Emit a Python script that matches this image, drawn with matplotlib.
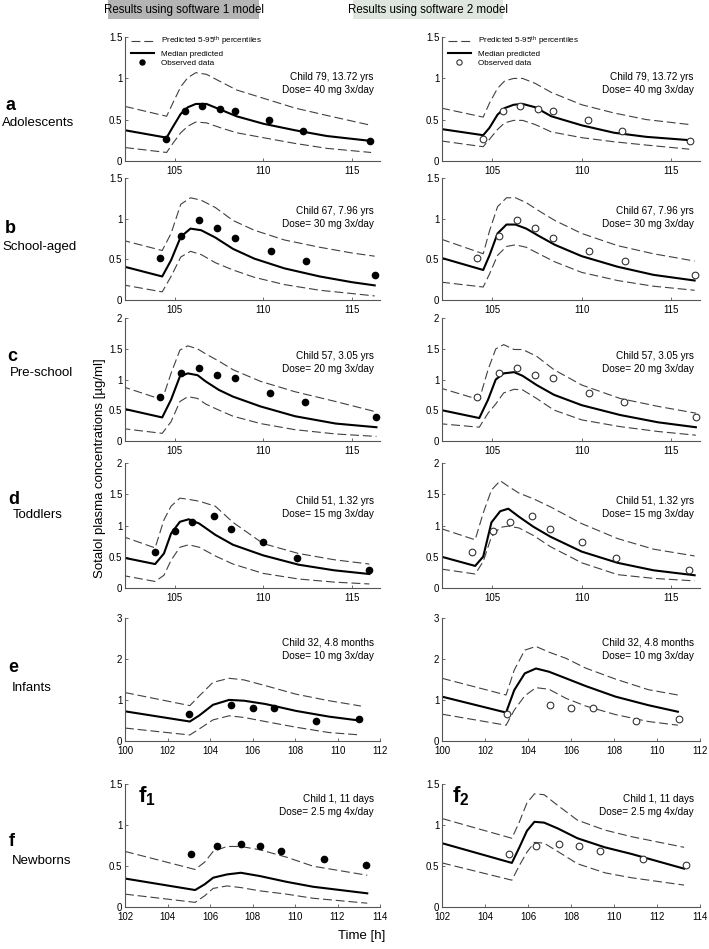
import numpy as np
import matplotlib
matplotlib.use('Agg')
import matplotlib.pyplot as plt
from matplotlib.patches import Rectangle
from matplotlib.ticker import FormatStrFormatter

plt.rcParams['font.family'] = ['Liberation Sans', 'DejaVu Sans']
plt.rcParams['mathtext.default'] = 'regular'

# ---- observed data (same in both columns) ----
a_obs_t = [104.5, 105.6, 106.55, 107.55, 108.4, 110.35, 112.25, 116.05]
a_obs_c = [0.26, 0.61, 0.67, 0.63, 0.61, 0.49, 0.36, 0.24]
b_obs_t = [104.15, 105.37, 106.37, 107.38, 108.4, 110.42, 112.4, 116.3]
b_obs_c = [0.52, 0.79, 0.98, 0.89, 0.77, 0.61, 0.48, 0.31]
c_obs_t = [104.15, 105.39, 106.39, 107.41, 108.39, 110.4, 112.38, 116.38]
c_obs_c = [0.72, 1.11, 1.19, 1.07, 1.02, 0.78, 0.64, 0.39]
d_obs_t = [103.9, 105.05, 106.0, 107.2, 108.2, 110.0, 111.9, 116.0]
d_obs_c = [0.58, 0.91, 1.05, 1.16, 0.94, 0.73, 0.48, 0.28]
e_obs_t = [103.0, 105.0, 106.0, 107.0, 109.0, 111.0]
e_obs_c = [0.66, 0.88, 0.80, 0.79, 0.48, 0.53]
f_obs_t = [105.1, 106.35, 107.45, 108.35, 109.35, 111.35, 113.35]
f_obs_c = [0.65, 0.74, 0.77, 0.74, 0.69, 0.59, 0.51]

# ---- software 1 predictions ----
a1_t = [102.2, 104.55, 104.9, 105.35, 105.75, 106.2, 106.8, 107.6, 108.5, 110.0, 111.8, 113.6, 116.1]
a1_med = [0.37, 0.28, 0.41, 0.57, 0.65, 0.69, 0.69, 0.62, 0.54, 0.45, 0.37, 0.30, 0.24]
a1_up = [0.66, 0.54, 0.70, 0.90, 1.01, 1.07, 1.05, 0.96, 0.86, 0.76, 0.64, 0.55, 0.43]
a1_lo = [0.16, 0.10, 0.21, 0.34, 0.42, 0.47, 0.46, 0.40, 0.34, 0.28, 0.21, 0.15, 0.10]

b1_t = [102.0, 104.3, 104.8, 105.35, 105.9, 106.5, 107.3, 108.3, 109.5, 111.2, 113.2, 115.0, 116.3]
b1_med = [0.42, 0.29, 0.49, 0.78, 0.88, 0.86, 0.77, 0.63, 0.51, 0.39, 0.29, 0.22, 0.18]
b1_up = [0.74, 0.61, 0.82, 1.18, 1.26, 1.23, 1.14, 0.98, 0.86, 0.74, 0.65, 0.58, 0.54]
b1_lo = [0.19, 0.10, 0.29, 0.53, 0.60, 0.56, 0.46, 0.37, 0.28, 0.19, 0.12, 0.08, 0.05]

c1_t = [102.0, 104.3, 104.8, 105.3, 105.75, 106.3, 106.75, 107.5, 108.3, 109.85, 111.8, 114.1, 116.4]
c1_med = [0.53, 0.38, 0.67, 1.05, 1.10, 1.07, 0.97, 0.83, 0.72, 0.56, 0.40, 0.28, 0.22]
c1_up = [0.89, 0.67, 1.10, 1.48, 1.55, 1.50, 1.42, 1.30, 1.16, 0.97, 0.80, 0.64, 0.47]
c1_lo = [0.20, 0.12, 0.31, 0.64, 0.72, 0.69, 0.60, 0.50, 0.40, 0.28, 0.18, 0.11, 0.07]

d1_t = [102.0, 103.9, 104.4, 104.8, 105.3, 105.8, 106.4, 107.3, 108.3, 110.0, 112.0, 114.0, 116.0]
d1_med = [0.49, 0.38, 0.55, 0.87, 1.06, 1.10, 1.03, 0.85, 0.69, 0.52, 0.37, 0.28, 0.22]
d1_up = [0.83, 0.64, 1.09, 1.31, 1.44, 1.42, 1.39, 1.31, 1.05, 0.71, 0.55, 0.45, 0.38]
d1_lo = [0.20, 0.10, 0.20, 0.44, 0.65, 0.69, 0.65, 0.51, 0.38, 0.23, 0.14, 0.09, 0.06]

e1_t = [100.0, 103.05, 103.5, 104.14, 104.9, 105.6, 106.6, 108.05, 109.6, 111.1]
e1_med = [0.72, 0.47, 0.62, 0.88, 1.00, 0.98, 0.90, 0.73, 0.59, 0.49]
e1_up = [1.18, 0.86, 1.10, 1.43, 1.53, 1.49, 1.35, 1.14, 0.98, 0.85]
e1_lo = [0.31, 0.14, 0.29, 0.51, 0.61, 0.57, 0.47, 0.33, 0.20, 0.14]

f1_t = [102.0, 105.3, 105.75, 106.15, 106.8, 107.45, 108.35, 109.6, 110.85, 113.4]
f1_med = [0.35, 0.21, 0.28, 0.36, 0.40, 0.42, 0.38, 0.31, 0.25, 0.17]
f1_up = [0.68, 0.46, 0.55, 0.68, 0.74, 0.74, 0.70, 0.61, 0.50, 0.39]
f1_lo = [0.16, 0.06, 0.14, 0.23, 0.26, 0.24, 0.20, 0.16, 0.11, 0.05]

# ---- software 2 predictions ----
a2_t = [102.15, 104.5, 104.85, 105.3, 105.7, 106.2, 106.7, 107.4, 108.3, 110.0, 111.8, 113.6, 116.0]
a2_med = [0.385, 0.31, 0.40, 0.56, 0.64, 0.68, 0.69, 0.65, 0.54, 0.43, 0.34, 0.29, 0.25]
a2_up = [0.64, 0.53, 0.70, 0.88, 0.97, 1.00, 1.00, 0.94, 0.83, 0.68, 0.58, 0.50, 0.44]
a2_lo = [0.24, 0.17, 0.26, 0.38, 0.46, 0.49, 0.49, 0.44, 0.35, 0.28, 0.23, 0.19, 0.14]

b2_t = [102.15, 104.5, 104.85, 105.3, 105.8, 106.3, 106.9, 107.6, 108.5, 110.0, 112.0, 114.0, 116.3]
b2_med = [0.52, 0.37, 0.55, 0.82, 0.93, 0.93, 0.88, 0.79, 0.68, 0.54, 0.41, 0.31, 0.24]
b2_up = [0.75, 0.57, 0.85, 1.15, 1.26, 1.26, 1.20, 1.10, 0.98, 0.82, 0.67, 0.57, 0.48]
b2_lo = [0.22, 0.16, 0.32, 0.55, 0.66, 0.68, 0.65, 0.57, 0.47, 0.34, 0.24, 0.17, 0.12]

c2_t = [102.0, 104.28, 104.77, 105.2, 105.64, 106.22, 106.7, 107.48, 108.45, 110.0, 112.14, 114.27, 116.37]
c2_med = [0.51, 0.37, 0.67, 1.00, 1.10, 1.12, 1.06, 0.91, 0.75, 0.58, 0.42, 0.30, 0.22]
c2_up = [0.87, 0.67, 1.16, 1.50, 1.57, 1.49, 1.49, 1.38, 1.16, 0.91, 0.69, 0.56, 0.45]
c2_lo = [0.28, 0.22, 0.45, 0.60, 0.78, 0.84, 0.83, 0.69, 0.50, 0.34, 0.23, 0.15, 0.09]

d2_t = [102.15, 104.05, 104.5, 104.96, 105.45, 105.9, 106.5, 107.3, 108.25, 110.0, 112.0, 114.0, 116.3]
d2_med = [0.50, 0.35, 0.50, 1.05, 1.23, 1.27, 1.14, 0.98, 0.82, 0.58, 0.40, 0.28, 0.20]
d2_up = [0.95, 0.77, 1.20, 1.57, 1.72, 1.63, 1.52, 1.43, 1.30, 1.03, 0.79, 0.62, 0.51]
d2_lo = [0.30, 0.22, 0.42, 0.82, 0.97, 0.99, 0.96, 0.84, 0.66, 0.40, 0.21, 0.15, 0.11]

e2_t = [100.0, 102.98, 103.36, 103.85, 104.37, 104.98, 105.76, 106.68, 108.07, 109.6, 110.97]
e2_med = [1.08, 0.69, 1.24, 1.65, 1.77, 1.69, 1.53, 1.34, 1.08, 0.87, 0.71]
e2_up = [1.53, 1.12, 1.73, 2.22, 2.31, 2.17, 2.02, 1.78, 1.51, 1.25, 1.12]
e2_lo = [0.65, 0.38, 0.75, 1.10, 1.30, 1.26, 1.04, 0.85, 0.64, 0.47, 0.38]

f2_t = [102.0, 105.25, 105.6, 105.95, 106.3, 106.75, 107.38, 108.3, 109.57, 110.8, 113.26]
f2_med = [0.78, 0.54, 0.73, 0.93, 1.04, 1.03, 0.96, 0.84, 0.73, 0.65, 0.47]
f2_up = [1.08, 0.84, 1.04, 1.27, 1.38, 1.37, 1.24, 1.06, 0.94, 0.86, 0.73]
f2_lo = [0.54, 0.33, 0.51, 0.67, 0.79, 0.78, 0.68, 0.53, 0.42, 0.36, 0.27]

row_letters = ['a', 'b', 'c', 'd', 'e', 'f']
row_names = ['Adolescents', 'School-aged', 'Pre-school', 'Toddlers', 'Infants', 'Newborns']
child_text = ['Child 79, 13.72 yrs', 'Child 67, 7.96 yrs', 'Child 57, 3.05 yrs',
              'Child 51, 1.32 yrs', 'Child 32, 4.8 months', 'Child 1, 11 days']
dose_text = ['Dose= 40 mg 3x/day', 'Dose= 30 mg 3x/day', 'Dose= 20 mg 3x/day',
             'Dose= 15 mg 3x/day', 'Dose= 10 mg 3x/day', 'Dose= 2.5 mg 4x/day']

obs = [(a_obs_t, a_obs_c), (b_obs_t, b_obs_c), (c_obs_t, c_obs_c),
       (d_obs_t, d_obs_c), (e_obs_t, e_obs_c), (f_obs_t, f_obs_c)]
pred1 = [(a1_t, a1_med, a1_up, a1_lo), (b1_t, b1_med, b1_up, b1_lo), (c1_t, c1_med, c1_up, c1_lo),
         (d1_t, d1_med, d1_up, d1_lo), (e1_t, e1_med, e1_up, e1_lo), (f1_t, f1_med, f1_up, f1_lo)]
pred2 = [(a2_t, a2_med, a2_up, a2_lo), (b2_t, b2_med, b2_up, b2_lo), (c2_t, c2_med, c2_up, c2_lo),
         (d2_t, d2_med, d2_up, d2_lo), (e2_t, e2_med, e2_up, e2_lo), (f2_t, f2_med, f2_up, f2_lo)]

# ---- layout (pixels) ----
W, H = 709, 949
cols_px = [(125, 380), (442, 700)]
rows_px = [(37.3, 160.7), (178.3, 300), (318.3, 440.7), (463.3, 587.7), (618.3, 740.7), (784, 907.3)]
ylims = [1.5, 1.5, 2, 2, 3, 1.5]
yticks = [[0, 0.5, 1, 1.5], [0, 0.5, 1, 1.5], [0, 0.5, 1, 1.5, 2], [0, 0.5, 1, 1.5, 2],
          [0, 1, 2, 3], [0, 0.5, 1, 1.5]]
xlims = [(102.2, 116.6)] * 4 + [(100, 112), (102, 114)]
xticks = [[105, 110, 115]] * 4 + [list(range(100, 113, 2)), list(range(102, 115, 2))]
text_y = [0.68, 0.73, 0.69, 0.70, 0.80, 0.88]
letter_px = [(5, 106), (5, 229), (7, 356), (8, 500), (8, 668), (9, 841)]
name_px = [(2, 123), (2, 247), (10, 373), (13, 515), (12, 688), (12, 861)]

dash_col = '#404040'

fig = plt.figure(figsize=(W / 100, H / 100), dpi=100)

for r in range(6):
    top, bot = rows_px[r]
    for c in range(2):
        l, rr = cols_px[c]
        ax = fig.add_axes([l / W, 1 - bot / H, (rr - l) / W, (bot - top) / H])
        t, med, up, lo = (pred1 if c == 0 else pred2)[r]
        ax.plot(t, up, color=dash_col, lw=0.8, dashes=(8, 3.5), label='Predicted 5-95$^{th}$ percentiles')
        ax.plot(t, lo, color=dash_col, lw=0.8, dashes=(8, 3.5))
        ax.plot(t, med, color='k', lw=1.5, label='Median predicted')
        ot, oc = obs[r]
        if c == 0:
            ax.plot(ot, oc, 'o', color='k', ms=4.5, label='Observed data')
        else:
            ax.plot(ot, oc, 'o', mfc='white', mec='#333333', mew=0.8, ms=4.8, label='Observed data')

        ax.set_xlim(xlims[r])
        ax.set_ylim(0, ylims[r])
        ax.set_xticks(xticks[r])
        ax.set_yticks(yticks[r])
        ax.yaxis.set_major_formatter(FormatStrFormatter('%g'))
        for s in ['top', 'right']:
            ax.spines[s].set_visible(False)
        for s in ['left', 'bottom']:
            ax.spines[s].set_color('#555555')
            ax.spines[s].set_linewidth(0.8)
        ax.tick_params(direction='in', length=2.5, width=0.6, colors='#555555',
                       labelcolor='k', labelsize=7, pad=2)
        ax.tick_params(axis='x', pad=3.5)

        ax.text(0.975, text_y[r], child_text[r], transform=ax.transAxes,
                ha='right', va='center', fontsize=7.2)
        ax.text(0.975, text_y[r] - 0.105, dose_text[r], transform=ax.transAxes,
                ha='right', va='center', fontsize=7.2)

        if r == 0:
            ax.legend(loc='upper left', bbox_to_anchor=(0.0, 1.065), frameon=False,
                      fontsize=5.9, handlelength=2.8, handletextpad=0.9,
                      labelspacing=0.2, borderpad=0.2, markerscale=0.8)
        if r == 5:
            ax.text(0.05 if c == 0 else 0.04, 0.9, 'f$_{%d}$' % (c + 1), transform=ax.transAxes,
                    fontsize=16, fontweight='bold', ha='left', va='center',
                    math_fontfamily='dejavusans')

# row labels
for i in range(6):
    fig.text(letter_px[i][0] / W, 1 - letter_px[i][1] / H, row_letters[i],
             fontsize=13, fontweight='bold', ha='left', va='center')
    fig.text(name_px[i][0] / W, 1 - name_px[i][1] / H, row_names[i],
             fontsize=9.5, ha='left', va='center')

# headers
fig.patches.append(Rectangle((108 / W, 1 - 19 / H), 151 / W, 19 / H, transform=fig.transFigure,
                             facecolor='#b4b4b4', edgecolor='none'))
fig.patches.append(Rectangle((353 / W, 1 - 19 / H), 150 / W, 19 / H, transform=fig.transFigure,
                             facecolor='#dfe5df', edgecolor='none'))
fig.text(184 / W, 1 - 10 / H, 'Results using software 1 model', ha='center', va='center',
         fontsize=8.3)
fig.text(428 / W, 1 - 10 / H, 'Results using software 2 model', ha='center', va='center',
         fontsize=8.3)

fig.text(100 / W, 1 - 468 / H, 'Sotalol plasma concentrations [µg/ml]', rotation=90,
         ha='center', va='center', fontsize=9.5)
fig.text(362 / W, 1 - 936 / H, 'Time [h]', ha='center', va='center', fontsize=9.5)

fig.savefig('out.png', dpi=100)
